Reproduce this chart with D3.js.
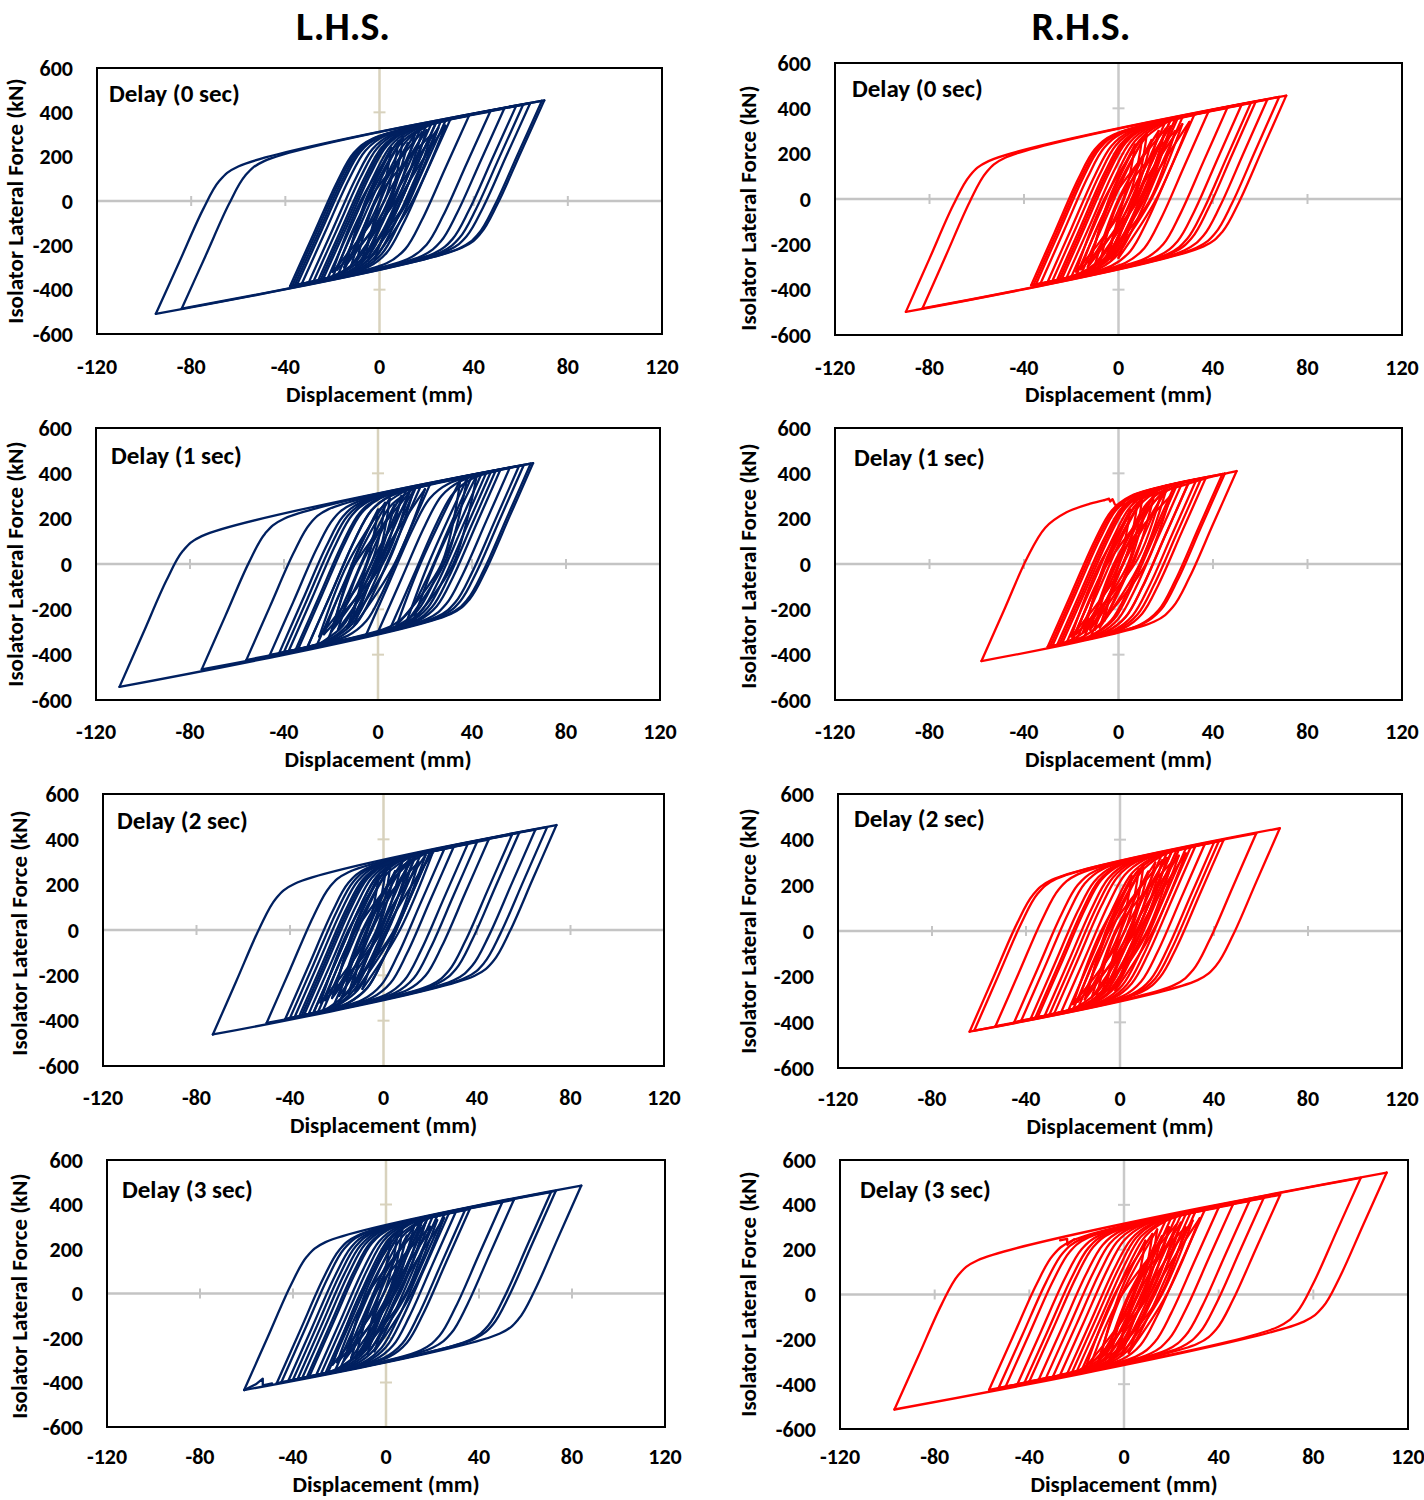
<!DOCTYPE html>
<html><head><meta charset="utf-8">
<script src="https://cdn.jsdelivr.net/npm/d3@7"></script>
<style>
html,body{margin:0;padding:0;background:#fff;}
svg text{font-family:Carlito,Calibri,Lato,"Open Sans",sans-serif;font-weight:700;fill:#000;}
</style></head>
<body>
<svg id="chart" width="1424" height="1500"></svg>
<script>
// ---------- data ----------
const xTicks = [-120, -80, -40, 0, 40, 80, 120];
const yTicks = [600, 400, 200, 0, -200, -400, -600];
const columnTitles = ["L.H.S.", "R.H.S."];
const delayLabels = ["Delay (0 sec)", "Delay (1 sec)", "Delay (2 sec)", "Delay (3 sec)"];
const xTitle = "Displacement (mm)";
const yTitle = "Isolator Lateral Force (kN)";

// large loops: descending branch (right tip -> left tip), then ascending branch back; [displacement mm, force kN]
const loopsL1 = [
[[70,454],[60,219],[50,-16],[43,-146],[35,-211],[-95,-509],[-85,-274],[-75,-39],[-68,91],[-60,156]],
[[69,452],[59,217],[49,-18],[42,-148],[34,-213],[-84,-485],[-74,-250],[-64,-15],[-57,115],[-49,180]],
[[64,441],[54,206],[44,-29],[37,-159],[29,-224],[-38,-384],[-28,-149],[-18,86],[-11,216],[-3,281]],
[[61,434],[51,199],[41,-36],[34,-166],[26,-231],[-37,-381],[-27,-146],[-17,89],[-10,219],[-2,284]],
[[58,428],[48,193],[38,-42],[31,-172],[23,-237],[-36,-379],[-26,-144],[-16,91],[-9,221],[-1,286]],
[[53,417],[43,182],[33,-53],[26,-183],[18,-248],[-35,-377],[-25,-142],[-15,93],[-8,223],[0,288]],
[[47,403],[37,168],[27,-67],[20,-197],[12,-262],[-33,-373],[-23,-138],[-13,97],[-6,227],[2,292]],
[[38,384],[28,149],[18,-86],[11,-216],[3,-281],[-30,-366],[-20,-131],[-10,104],[-3,234],[5,299]],
[[30,366],[20,131],[10,-104],[3,-234],[-5,-299],[-28,-362],[-18,-127],[-8,108],[-1,238],[7,303]],
[[26,357],[16,122],[6,-113],[-1,-243],[-9,-308],[-26,-357],[-16,-122],[-6,113],[1,243],[9,308]],
[[24,353],[14,118],[4,-117],[-3,-247],[-11,-312],[-24,-353],[-14,-118],[-4,117],[3,247],[11,312]],
[[28,362],[18,127],[8,-108],[1,-238],[-7,-303],[-22,-348],[-12,-113],[-2,122],[5,252],[13,317]],
[[22,348],[12,113],[2,-122],[-5,-252],[-13,-317],[-20,-344],[-10,-109],[0,126],[7,256],[15,321]],
[[20,344],[10,109],[0,-126],[-7,-256],[-15,-321],[-18,-340],[-8,-105],[2,130],[9,260],[17,325]],
[[18,340],[8,105],[-2,-130],[-9,-260],[-17,-325],[-25,-355],[-15,-120],[-5,115],[2,245],[10,310]],
[[24,353],[14,118],[4,-117],[-3,-247],[-11,-312],[-16,-335],[-6,-100],[4,135],[11,265],[19,330]]
];
const loopsL2 = [
[[66,445],[56,210],[46,-25],[39,-155],[31,-220],[-110,-542],[-100,-307],[-90,-72],[-83,58],[-75,123]],
[[65,443],[55,208],[45,-27],[38,-157],[30,-222],[-75,-465],[-65,-230],[-55,5],[-48,135],[-40,200]],
[[62,436],[52,201],[42,-34],[35,-164],[27,-229],[-56,-423],[-46,-188],[-36,47],[-29,177],[-21,242]],
[[60,432],[50,197],[40,-38],[33,-168],[25,-233],[-46,-401],[-36,-166],[-26,69],[-19,199],[-11,264]],
[[56,423],[46,188],[36,-47],[29,-177],[21,-242],[-42,-392],[-32,-157],[-22,78],[-15,208],[-7,273]],
[[50,410],[40,175],[30,-60],[23,-190],[15,-255],[-38,-384],[-28,-149],[-18,86],[-11,216],[-3,281]],
[[46,401],[36,166],[26,-69],[19,-199],[11,-264],[-35,-377],[-25,-142],[-15,93],[-8,223],[0,288]],
[[40,388],[30,153],[20,-82],[13,-212],[5,-277],[-30,-366],[-20,-131],[-10,104],[-3,234],[5,299]],
[[22,348],[12,113],[2,-122],[-5,-252],[-13,-317],[-40,-388],[-30,-153],[-20,82],[-13,212],[-5,277]],
[[18,340],[8,105],[-2,-130],[-9,-260],[-17,-325],[-34,-375],[-24,-140],[-14,95],[-7,225],[1,290]],
[[14,331],[4,96],[-6,-139],[-13,-269],[-21,-334],[-30,-366],[-20,-131],[-10,104],[-3,234],[5,299]],
[[12,326],[2,91],[-8,-144],[-15,-274],[-23,-339],[-26,-357],[-16,-122],[-6,113],[1,243],[9,308]],
[[16,335],[6,100],[-4,-135],[-11,-265],[-19,-330],[-22,-348],[-12,-113],[-2,122],[5,252],[13,317]],
[[48,406],[38,171],[28,-64],[21,-194],[13,-259],[-5,-311],[5,-76],[15,159],[22,289],[30,354]],
[[44,397],[34,162],[24,-73],[17,-203],[9,-268],[0,-300],[10,-65],[20,170],[27,300],[35,365]],
[[52,414],[42,179],[32,-56],[25,-186],[17,-251],[5,-289],[15,-54],[25,181],[32,311],[40,376]]
];
const loopsL3 = [
[[74,463],[64,228],[54,-7],[47,-137],[39,-202],[-73,-461],[-63,-226],[-53,9],[-46,139],[-38,204]],
[[70,454],[60,219],[50,-16],[43,-146],[35,-211],[-50,-410],[-40,-175],[-30,60],[-23,190],[-15,255]],
[[65,443],[55,208],[45,-27],[38,-157],[30,-222],[-42,-392],[-32,-157],[-22,78],[-15,208],[-7,273]],
[[58,428],[48,193],[38,-42],[31,-172],[23,-237],[-40,-388],[-30,-153],[-20,82],[-13,212],[-5,277]],
[[55,421],[45,186],[35,-49],[28,-179],[20,-244],[-38,-384],[-28,-149],[-18,86],[-11,216],[-3,281]],
[[45,399],[35,164],[25,-71],[18,-201],[10,-266],[-32,-370],[-22,-135],[-12,100],[-5,230],[3,295]],
[[40,388],[30,153],[20,-82],[13,-212],[5,-277],[-36,-379],[-26,-144],[-16,91],[-9,221],[-1,286]],
[[36,379],[26,144],[16,-91],[9,-221],[1,-286],[-34,-375],[-24,-140],[-14,95],[-7,225],[1,290]],
[[30,366],[20,131],[10,-104],[3,-234],[-5,-299],[-30,-366],[-20,-131],[-10,104],[-3,234],[5,299]],
[[26,357],[16,122],[6,-113],[-1,-243],[-9,-308],[-28,-362],[-18,-127],[-8,108],[-1,238],[7,303]],
[[20,344],[10,109],[0,-126],[-7,-256],[-15,-321],[-35,-377],[-25,-142],[-15,93],[-8,223],[0,288]],
[[14,331],[4,96],[-6,-139],[-13,-269],[-21,-334],[-30,-366],[-20,-131],[-10,104],[-3,234],[5,299]],
[[12,326],[2,91],[-8,-144],[-15,-274],[-23,-339],[-26,-357],[-16,-122],[-6,113],[1,243],[9,308]],
[[16,335],[6,100],[-4,-135],[-11,-265],[-19,-330],[-22,-348],[-12,-113],[-2,122],[5,252],[13,317]],
[[20,344],[10,109],[0,-126],[-7,-256],[-15,-321],[-20,-344],[-10,-109],[0,126],[7,256],[15,321]]
];
const loopsL4 = [
[[84,485],[74,250],[64,15],[57,-115],[49,-180],[-61,-434],[-51,-199],[-41,36],[-34,166],[-26,231]],
[[73,461],[63,226],[53,-9],[46,-139],[38,-204],[-47,-403],[-37,-168],[-27,67],[-20,197],[-12,262]],
[[71,456],[61,221],[51,-14],[44,-144],[36,-209],[-45,-399],[-35,-164],[-25,71],[-18,201],[-10,266]],
[[55,421],[45,186],[35,-49],[28,-179],[20,-244],[-42,-392],[-32,-157],[-22,78],[-15,208],[-7,273]],
[[50,410],[40,175],[30,-60],[23,-190],[15,-255],[-40,-388],[-30,-153],[-20,82],[-13,212],[-5,277]],
[[36,379],[26,144],[16,-91],[9,-221],[1,-286],[-38,-384],[-28,-149],[-18,86],[-11,216],[-3,281]],
[[34,375],[24,140],[14,-95],[7,-225],[-1,-290],[-36,-379],[-26,-144],[-16,91],[-9,221],[-1,286]],
[[30,366],[20,131],[10,-104],[3,-234],[-5,-299],[-34,-375],[-24,-140],[-14,95],[-7,225],[1,290]],
[[27,359],[17,124],[7,-111],[0,-241],[-8,-306],[-33,-373],[-23,-138],[-13,97],[-6,227],[2,292]],
[[22,348],[12,113],[2,-122],[-5,-252],[-13,-317],[-30,-366],[-20,-131],[-10,104],[-3,234],[5,299]],
[[18,340],[8,105],[-2,-130],[-9,-260],[-17,-325],[-28,-362],[-18,-127],[-8,108],[-1,238],[7,303]],
[[25,355],[15,120],[5,-115],[-2,-245],[-10,-310],[-26,-357],[-16,-122],[-6,113],[1,243],[9,308]],
[[15,333],[5,98],[-5,-137],[-12,-267],[-20,-332],[-25,-355],[-15,-120],[-5,115],[2,245],[10,310]],
[[16,335],[6,100],[-4,-135],[-11,-265],[-19,-330],[-22,-348],[-12,-113],[-2,122],[5,252],[13,317]],
[[20,344],[10,109],[0,-126],[-7,-256],[-15,-321],[-20,-344],[-10,-109],[0,126],[7,256],[15,321]]
];
const loopsR1 = [
[[71,456],[61,221],[51,-14],[44,-144],[36,-209],[-90,-498],[-80,-263],[-70,-28],[-63,102],[-55,167]],
[[68,450],[58,215],[48,-20],[41,-150],[33,-215],[-83,-483],[-73,-248],[-63,-13],[-56,117],[-48,182]],
[[63,439],[53,204],[43,-31],[36,-161],[28,-226],[-37,-381],[-27,-146],[-17,89],[-10,219],[-2,284]],
[[58,428],[48,193],[38,-42],[31,-172],[23,-237],[-36,-379],[-26,-144],[-16,91],[-9,221],[-1,286]],
[[56,423],[46,188],[36,-47],[29,-177],[21,-242],[-35,-377],[-25,-142],[-15,93],[-8,223],[0,288]],
[[52,414],[42,179],[32,-56],[25,-186],[17,-251],[-33,-373],[-23,-138],[-13,97],[-6,227],[2,292]],
[[46,401],[36,166],[26,-69],[19,-199],[11,-264],[-30,-366],[-20,-131],[-10,104],[-3,234],[5,299]],
[[38,384],[28,149],[18,-86],[11,-216],[3,-281],[-28,-362],[-18,-127],[-8,108],[-1,238],[7,303]],
[[32,370],[22,135],[12,-100],[5,-230],[-3,-295],[-26,-357],[-16,-122],[-6,113],[1,243],[9,308]],
[[27,359],[17,124],[7,-111],[0,-241],[-8,-306],[-24,-353],[-14,-118],[-4,117],[3,247],[11,312]],
[[24,353],[14,118],[4,-117],[-3,-247],[-11,-312],[-22,-348],[-12,-113],[-2,122],[5,252],[13,317]],
[[22,348],[12,113],[2,-122],[-5,-252],[-13,-317],[-20,-344],[-10,-109],[0,126],[7,256],[15,321]],
[[25,355],[15,120],[5,-115],[-2,-245],[-10,-310],[-18,-340],[-8,-105],[2,130],[9,260],[17,325]],
[[20,344],[10,109],[0,-126],[-7,-256],[-15,-321],[-25,-355],[-15,-120],[-5,115],[2,245],[10,310]],
[[22,348],[12,113],[2,-122],[-5,-252],[-13,-317],[-16,-335],[-6,-100],[4,135],[11,265],[19,330]]
];
const loopsR2 = [
[[45,399],[35,164],[25,-71],[18,-201],[10,-266],[-30,-366],[-20,-131],[-10,104],[-3,234],[5,299]],
[[44,397],[34,162],[24,-73],[17,-203],[9,-268],[-28,-362],[-18,-127],[-8,108],[-1,238],[7,303]],
[[37,381],[27,146],[17,-89],[10,-219],[2,-284],[-26,-357],[-16,-122],[-6,113],[1,243],[9,308]],
[[33,373],[23,138],[13,-97],[6,-227],[-2,-292],[-24,-353],[-14,-118],[-4,117],[3,247],[11,312]],
[[30,366],[20,131],[10,-104],[3,-234],[-5,-299],[-22,-348],[-12,-113],[-2,122],[5,252],[13,317]],
[[27,359],[17,124],[7,-111],[0,-241],[-8,-306],[-20,-344],[-10,-109],[0,126],[7,256],[15,321]],
[[24,353],[14,118],[4,-117],[-3,-247],[-11,-312],[-18,-340],[-8,-105],[2,130],[9,260],[17,325]],
[[20,344],[10,109],[0,-126],[-7,-256],[-15,-321],[-25,-355],[-15,-120],[-5,115],[2,245],[10,310]],
[[25,355],[15,120],[5,-115],[-2,-245],[-10,-310],[-15,-333],[-5,-98],[5,137],[12,267],[20,332]],
[[30,366],[20,131],[10,-104],[3,-234],[-5,-299],[-12,-326],[-2,-91],[8,144],[15,274],[23,339]],
[[35,377],[25,142],[15,-93],[8,-223],[0,-288],[-20,-344],[-10,-109],[0,126],[7,256],[15,321]],
[[16,335],[6,100],[-4,-135],[-11,-265],[-19,-330],[-29,-364],[-19,-129],[-9,106],[-2,236],[6,301]]
];
const loopsR3 = [
[[68,450],[58,215],[48,-20],[41,-150],[33,-215],[-64,-441],[-54,-206],[-44,29],[-37,159],[-29,224]],
[[58,428],[48,193],[38,-42],[31,-172],[23,-237],[-62,-436],[-52,-201],[-42,34],[-35,164],[-27,229]],
[[44,397],[34,162],[24,-73],[17,-203],[9,-268],[-53,-417],[-43,-182],[-33,53],[-26,183],[-18,248]],
[[40,388],[30,153],[20,-82],[13,-212],[5,-277],[-45,-399],[-35,-164],[-25,71],[-18,201],[-10,266]],
[[36,379],[26,144],[16,-91],[9,-221],[1,-286],[-42,-392],[-32,-157],[-22,78],[-15,208],[-7,273]],
[[32,370],[22,135],[12,-100],[5,-230],[-3,-295],[-38,-384],[-28,-149],[-18,86],[-11,216],[-3,281]],
[[30,366],[20,131],[10,-104],[3,-234],[-5,-299],[-35,-377],[-25,-142],[-15,93],[-8,223],[0,288]],
[[28,362],[18,127],[8,-108],[1,-238],[-7,-303],[-32,-370],[-22,-135],[-12,100],[-5,230],[3,295]],
[[25,355],[15,120],[5,-115],[-2,-245],[-10,-310],[-30,-366],[-20,-131],[-10,104],[-3,234],[5,299]],
[[22,348],[12,113],[2,-122],[-5,-252],[-13,-317],[-28,-362],[-18,-127],[-8,108],[-1,238],[7,303]],
[[20,344],[10,109],[0,-126],[-7,-256],[-15,-321],[-25,-355],[-15,-120],[-5,115],[2,245],[10,310]],
[[18,340],[8,105],[-2,-130],[-9,-260],[-17,-325],[-22,-348],[-12,-113],[-2,122],[5,252],[13,317]],
[[24,353],[14,118],[4,-117],[-3,-247],[-11,-312],[-20,-344],[-10,-109],[0,126],[7,256],[15,321]],
[[42,392],[32,157],[22,-78],[15,-208],[7,-273],[-36,-379],[-26,-144],[-16,91],[-9,221],[-1,286]],
[[22,348],[12,113],[2,-122],[-5,-252],[-13,-317],[-18,-340],[-8,-105],[2,130],[9,260],[17,325]]
];
const loopsR4 = [
[[111,544],[101,309],[91,74],[84,-56],[76,-121],[-97,-513],[-87,-278],[-77,-43],[-70,87],[-62,152]],
[[100,520],[90,285],[80,50],[73,-80],[65,-145],[-57,-425],[-47,-190],[-37,45],[-30,175],[-22,240]],
[[66,445],[56,210],[46,-25],[39,-155],[31,-220],[-53,-417],[-43,-182],[-33,53],[-26,183],[-18,248]],
[[59,430],[49,195],[39,-40],[32,-170],[24,-235],[-50,-410],[-40,-175],[-30,60],[-23,190],[-15,255]],
[[53,417],[43,182],[33,-53],[26,-183],[18,-248],[-45,-399],[-35,-164],[-25,71],[-18,201],[-10,266]],
[[46,401],[36,166],[26,-69],[19,-199],[11,-264],[-42,-392],[-32,-157],[-22,78],[-15,208],[-7,273]],
[[40,388],[30,153],[20,-82],[13,-212],[5,-277],[-40,-388],[-30,-153],[-20,82],[-13,212],[-5,277]],
[[34,375],[24,140],[14,-95],[7,-225],[-1,-290],[-36,-379],[-26,-144],[-16,91],[-9,221],[-1,286]],
[[30,366],[20,131],[10,-104],[3,-234],[-5,-299],[-33,-373],[-23,-138],[-13,97],[-6,227],[2,292]],
[[26,357],[16,122],[6,-113],[-1,-243],[-9,-308],[-30,-366],[-20,-131],[-10,104],[-3,234],[5,299]],
[[22,348],[12,113],[2,-122],[-5,-252],[-13,-317],[-27,-359],[-17,-124],[-7,111],[0,241],[8,306]],
[[20,344],[10,109],[0,-126],[-7,-256],[-15,-321],[-24,-353],[-14,-118],[-4,117],[3,247],[11,312]],
[[18,340],[8,105],[-2,-130],[-9,-260],[-17,-325],[-20,-344],[-10,-109],[0,126],[7,256],[15,321]],
[[24,353],[14,118],[4,-117],[-3,-247],[-11,-312],[-18,-340],[-8,-105],[2,130],[9,260],[17,325]],
[[28,362],[18,127],[8,-108],[1,-238],[-7,-303],[-22,-348],[-12,-113],[-2,122],[5,252],[13,317]]
];

// small inner loops: [right tip, descending mid, left tip, ascending mid]
const lensL1 = [
[[15,300],[6,0],[-12,-290],[-2,0]],[[20,320],[9,0],[-8,-280],[2,0]],[[10,290],[4,0],[-15,-300],[-5,0]],
[[25,330],[12,0],[-5,-270],[5,0]],[[18,310],[8,20],[-18,-310],[-6,-20]],[[12,260],[5,10],[-6,-250],[0,-10]],
[[22,300],[11,-10],[-10,-290],[-1,10]],[[8,270],[2,0],[-20,-320],[-8,0]],[[28,340],[14,0],[-2,-260],[8,0]],
[[5,240],[0,0],[-14,-280],[-6,0]]
];
const lensL2 = [
[[10,300],[1,0],[-17,-290],[-7,0]],[[15,320],[4,0],[-13,-280],[-3,0]],[[5,290],[-1,0],[-20,-300],[-10,0]],
[[20,330],[7,0],[-10,-270],[0,0]],[[13,310],[3,20],[-23,-310],[-11,-20]],[[7,260],[0,10],[-11,-250],[-5,-10]],
[[3,270],[-3,0],[-25,-320],[-13,0]],[[0,240],[-5,0],[-19,-280],[-11,0]],
[[42,390],[32,0],[15,-250],[24,0]],[[38,380],[29,20],[12,-260],[21,-10]],[[35,370],[27,0],[8,-270],[18,0]]
];
const lensL3 = [
[[8,300],[-1,0],[-19,-290],[-9,0]],[[13,320],[2,0],[-15,-280],[-5,0]],[[3,290],[-3,0],[-22,-300],[-12,0]],
[[18,330],[5,0],[-12,-270],[-2,0]],[[11,310],[1,20],[-25,-310],[-13,-20]],[[5,260],[-2,10],[-13,-250],[-7,-10]],
[[15,300],[4,-10],[-17,-290],[-8,10]],[[1,270],[-5,0],[-27,-320],[-15,0]],[[21,340],[7,0],[-9,-260],[1,0]],
[[-2,240],[-7,0],[-21,-280],[-13,0]]
];
const lensL4 = [
[[12,300],[3,0],[-15,-290],[-5,0]],[[17,320],[6,0],[-11,-280],[-1,0]],[[7,290],[1,0],[-18,-300],[-8,0]],
[[22,330],[9,0],[-8,-270],[2,0]],[[15,310],[5,20],[-21,-310],[-9,-20]],[[9,260],[2,10],[-9,-250],[-3,-10]],
[[19,300],[8,-10],[-13,-290],[-4,10]],[[5,270],[-1,0],[-23,-320],[-11,0]],[[25,340],[11,0],[-5,-260],[5,0]],
[[2,240],[-3,0],[-17,-280],[-9,0]]
];
const lensR1 = [
[[17,300],[8,0],[-10,-290],[0,0]],[[22,320],[11,0],[-6,-280],[4,0]],[[12,290],[6,0],[-13,-300],[-3,0]],
[[27,330],[14,0],[-3,-270],[7,0]],[[20,310],[10,20],[-16,-310],[-4,-20]],[[14,260],[7,10],[-4,-250],[2,-10]],
[[24,300],[13,-10],[-8,-290],[1,10]],[[10,270],[4,0],[-18,-320],[-6,0]],[[30,340],[16,0],[0,-260],[10,0]],
[[7,240],[2,0],[-12,-280],[-4,0]]
];
const lensR2 = [
[[15,300],[6,0],[-12,-290],[-2,0]],[[20,320],[9,0],[-8,-280],[2,0]],[[10,290],[4,0],[-15,-300],[-5,0]],
[[18,310],[8,20],[-18,-310],[-6,-20]],[[12,260],[5,10],[-6,-250],[0,-10]],[[22,300],[11,-10],[-10,-290],[-1,10]],
[[8,270],[2,0],[-20,-320],[-8,0]],[[5,240],[0,0],[-14,-280],[-6,0]]
];
const lensR3 = [
[[15,300],[6,0],[-12,-290],[-2,0]],[[20,320],[9,0],[-8,-280],[2,0]],[[10,290],[4,0],[-15,-300],[-5,0]],
[[25,330],[12,0],[-5,-270],[5,0]],[[18,310],[8,20],[-18,-310],[-6,-20]],[[12,260],[5,10],[-6,-250],[0,-10]],
[[22,300],[11,-10],[-10,-290],[-1,10]],[[8,270],[2,0],[-20,-320],[-8,0]],[[28,340],[14,0],[-2,-260],[8,0]],
[[5,240],[0,0],[-14,-280],[-6,0]]
];
const lensR4 = [
[[19,300],[10,0],[-8,-290],[2,0]],[[24,320],[13,0],[-4,-280],[6,0]],[[14,290],[8,0],[-11,-300],[-1,0]],
[[29,330],[16,0],[-1,-270],[9,0]],[[22,310],[12,20],[-14,-310],[-2,-20]],[[16,260],[9,10],[-2,-250],[4,-10]],
[[26,300],[15,-10],[-6,-290],[3,10]],[[12,270],[6,0],[-16,-320],[-4,0]],[[32,340],[18,0],[2,-260],[12,0]],
[[9,240],[4,0],[-10,-280],[-2,0]]
];

// individual branches drawn as read (outer excursion of R.H.S. 1 sec)
const pathsR2 = [
[[50,410],[40,175],[30,-60],[23,-190],[15,-255],[-58,-428]],
[[-58,-428],[-48,-193],[-39,20],[-31,160],[-22,228],[-12,266],[-6,282]],
[[1,258],[12,298],[25,340],[40,386],[50,410]]
];
// small irregular jumps in the records
const glitchL4 = [[[-61,-434],[-56,-408],[-53,-383],[-53,-413],[-49,-404]]];
const glitchR2 = [[[-6,282],[-4,288],[-3.5,276],[-2.5,286],[-1.5,262],[1,258]]];
const glitchR4 = [[[-27,242],[-24,248],[-24,222],[-21,247]]];

// ---------- layout ----------
const navy = "#002060", red = "#ff0000";
const panels = [
  {loops: loopsL1, lens: lensL1, paths: [], glitch: [], label: delayLabels[0], color: navy, side: "L", box: [97, 68, 662, 334], delay: [109, 102], yt: [23, 201], xtY: 394, xlY: 366},
  {loops: loopsR1, lens: lensR1, paths: [], glitch: [], label: delayLabels[0], color: red,  side: "R", box: [835, 63, 1402, 335], delay: [852, 97], yt: [756, 208], xtY: 394, xlY: 367},
  {loops: loopsL2, lens: lensL2, paths: [], glitch: [], label: delayLabels[1], color: navy, side: "L", box: [96, 428, 660, 700], delay: [111, 464], yt: [23, 564], xtY: 759, xlY: 731},
  {loops: loopsR2, lens: lensR2, paths: pathsR2, glitch: glitchR2, label: delayLabels[1], color: red,  side: "R", box: [835, 428, 1402, 700], delay: [854, 466], yt: [756, 566], xtY: 759, xlY: 731},
  {loops: loopsL3, lens: lensL3, paths: [], glitch: [], label: delayLabels[2], color: navy, side: "L", box: [103, 794, 664, 1066], delay: [117, 829], yt: [27, 933], xtY: 1125, xlY: 1097},
  {loops: loopsR3, lens: lensR3, paths: [], glitch: [], label: delayLabels[2], color: red,  side: "R", box: [838, 794, 1402, 1068], delay: [854, 827], yt: [756, 931], xtY: 1126, xlY: 1098},
  {loops: loopsL4, lens: lensL4, paths: [], glitch: glitchL4, label: delayLabels[3], color: navy, side: "L", box: [107, 1160, 665, 1427], delay: [122, 1198], yt: [27, 1296], xtY: 1484, xlY: 1456},
  {loops: loopsR4, lens: lensR4, paths: [], glitch: glitchR4, label: delayLabels[3], color: red,  side: "R", box: [840, 1160, 1408, 1429], delay: [860, 1198], yt: [756, 1294], xtY: 1484, xlY: 1456}
];

const svg = d3.select("#chart");
svg.append("rect").attr("width", 1424).attr("height", 1500).attr("fill", "#fff");

svg.selectAll("text.coltitle").data(columnTitles).join("text")
  .attr("class", "coltitle")
  .attr("x", (d, i) => i === 0 ? 343 : 1081)
  .attr("y", 40)
  .attr("text-anchor", "middle")
  .style("font-size", "40px").text(d => d);

panels.forEach((p, pi) => {
  const [x0, y0, x1, y1] = p.box;
  const x = d3.scaleLinear().domain([-120, 120]).range([x0, x1]);
  const y = d3.scaleLinear().domain([-600, 600]).range([y1, y0]);
  const g = svg.append("g");
  const clipId = "clip" + pi;
  g.append("clipPath").attr("id", clipId).append("rect")
    .attr("x", x0).attr("y", y0).attr("width", x1 - x0).attr("height", y1 - y0);

  const vCol = p.side === "L" ? "#d8d2bd" : "#c9c9c9";
  const hCol = "#c4c4c4";
  g.append("line").attr("x1", x0).attr("x2", x1).attr("y1", y(0)).attr("y2", y(0))
    .attr("stroke", hCol).attr("stroke-width", 2.5);
  g.selectAll("line.xt").data(xTicks.filter(v => v !== 0 && Math.abs(v) < 120)).join("line")
    .attr("x1", d => x(d)).attr("x2", d => x(d)).attr("y1", y(0) - 5).attr("y2", y(0) + 5)
    .attr("stroke", hCol).attr("stroke-width", 2);
  g.append("line").attr("x1", x(0)).attr("x2", x(0)).attr("y1", y0).attr("y2", y1)
    .attr("stroke", vCol).attr("stroke-width", 2.5);
  g.selectAll("line.yt").data(yTicks.filter(v => v !== 0)).join("line")
    .attr("x1", x(0) - 6).attr("x2", x(0) + 6).attr("y1", d => y(d)).attr("y2", d => y(d))
    .attr("stroke", vCol).attr("stroke-width", 2);

  const line = d3.line().x(d => x(d[0])).y(d => y(d[1])).curve(d3.curveCatmullRom.alpha(0.5));
  const linear = d3.line().x(d => x(d[0])).y(d => y(d[1]));
  const branches = [];
  p.loops.forEach(L => {
    branches.push(L.slice(0, 6));
    branches.push(L.slice(5).concat([L[0]]));
  });
  p.lens.forEach(L => {
    branches.push([L[0], L[1], L[2]]);
    branches.push([L[2], L[3], L[0]]);
  });
  p.paths.forEach(P => branches.push(P));
  const cg = g.append("g").attr("clip-path", `url(#${clipId})`);
  cg.selectAll("path.br").data(branches).join("path").attr("class", "br")
    .attr("d", line).attr("fill", "none").attr("stroke", p.color)
    .attr("stroke-width", 2.3).attr("stroke-linejoin", "round").attr("stroke-linecap", "round");
  cg.selectAll("path.gl").data(p.glitch).join("path").attr("class", "gl")
    .attr("d", linear).attr("fill", "none").attr("stroke", p.color)
    .attr("stroke-width", 2.3).attr("stroke-linejoin", "round").attr("stroke-linecap", "round");

  g.append("rect").attr("x", x0).attr("y", y0).attr("width", x1 - x0).attr("height", y1 - y0)
    .attr("fill", "none").attr("stroke", "#000").attr("stroke-width", 2);

  g.selectAll("text.xl").data(xTicks).join("text").attr("class", "xl")
    .attr("x", d => x(d)).attr("y", p.xlY)
    .attr("text-anchor", "middle").attr("dominant-baseline", "central")
    .style("font-size", "22px").text(d => d);
  g.selectAll("text.yl").data(yTicks).join("text").attr("class", "yl")
    .attr("x", x0 - 24).attr("y", d => y(d))
    .attr("text-anchor", "end").attr("dominant-baseline", "central")
    .style("font-size", "22px").text(d => d);

  g.append("text").attr("x", (x0 + x1) / 2).attr("y", p.xtY)
    .attr("text-anchor", "middle").attr("dominant-baseline", "central")
    .style("font-size", "23px").text(xTitle);
  g.append("text").attr("transform", `translate(${p.yt[0]},${p.yt[1]}) rotate(-90)`)
    .attr("text-anchor", "middle")
    .style("font-size", "23px").text(yTitle);
  g.append("text").attr("x", p.delay[0]).attr("y", p.delay[1])
    .style("font-size", "25px").text(p.label);
});
</script>
</body></html>
